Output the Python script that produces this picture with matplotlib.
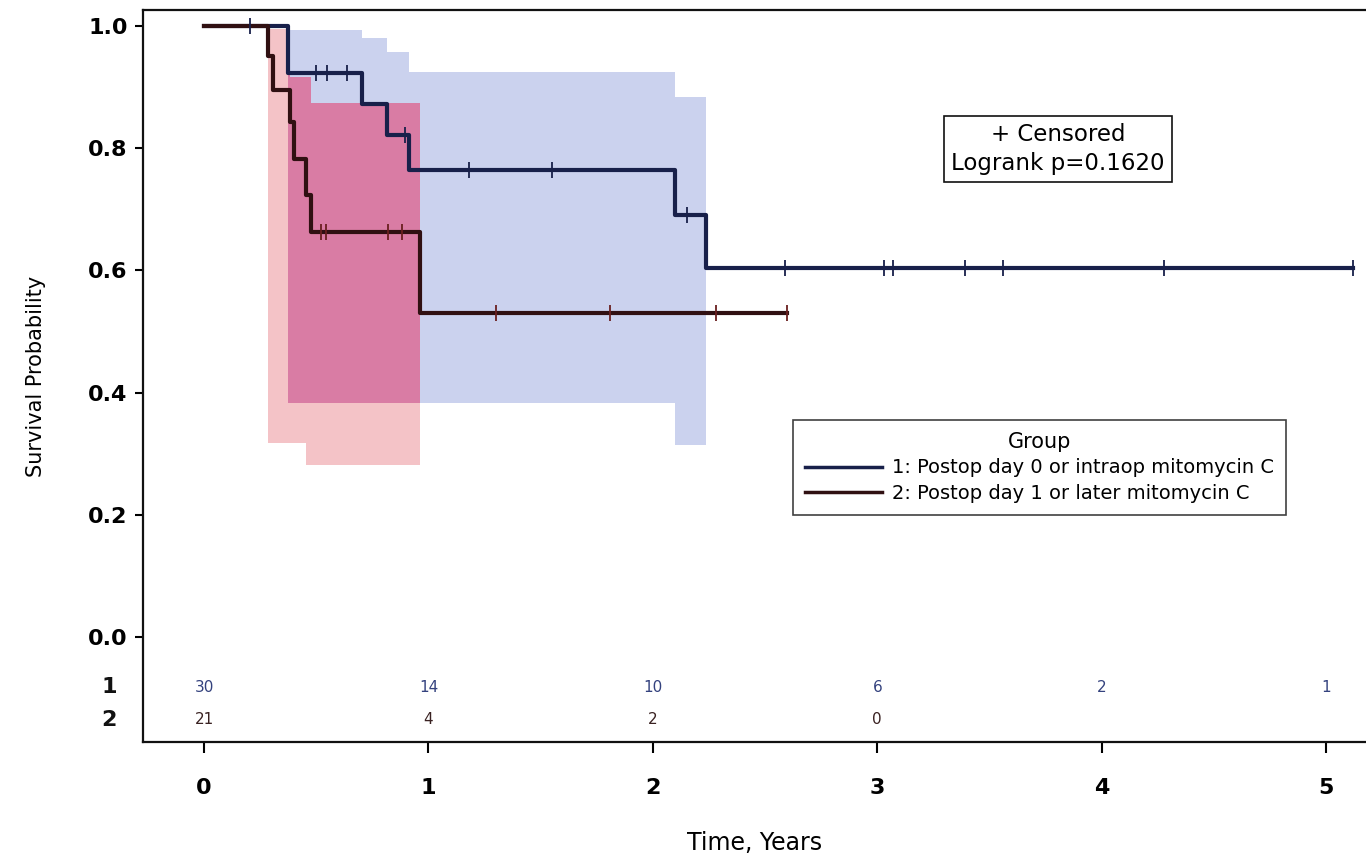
import numpy as np
import matplotlib
matplotlib.use("Agg")
import matplotlib.pyplot as plt
from matplotlib.lines import Line2D

# ---- Kaplan-Meier estimates (step change points) ----
g1_time = [0.0, 0.374, 0.706, 0.814, 0.915, 2.099, 2.237, 5.12]
g1_surv = [1.0, 0.923, 0.872, 0.821, 0.764, 0.691, 0.603, 0.603]
g1_cens_time = [0.205, 0.50, 0.55, 0.635, 0.896, 1.18, 1.55, 2.15, 2.59, 3.03, 3.07, 3.39, 3.56, 4.28, 5.12]

g2_time = [0.0, 0.287, 0.309, 0.383, 0.40, 0.456, 0.478, 0.963, 2.60]
g2_surv = [1.0, 0.950, 0.895, 0.842, 0.782, 0.723, 0.663, 0.530, 0.530]
g2_cens_time = [0.52, 0.545, 0.82, 0.88, 1.30, 1.81, 2.28, 2.60]

# ---- Confidence bands (step change points, last entry closes the band) ----
b1_time = [0.374, 0.706, 0.814, 0.915, 2.099, 2.237]
b1_low = [0.383, 0.383, 0.383, 0.383, 0.314, 0.314]
b1_up = [0.993, 0.980, 0.958, 0.925, 0.884, 0.884]

b2_time = [0.287, 0.383, 0.456, 0.478, 0.963]
b2_low = [0.317, 0.317, 0.282, 0.282, 0.282]
b2_up = [0.995, 0.917, 0.917, 0.874, 0.874]

# ---- Number at risk ----
risk_times = [0, 1, 2, 3, 4, 5]
risk_g1 = [30, 14, 10, 6, 2, 1]
risk_g2 = [21, 4, 2, 0]

group_labels = ["1: Postop day 0 or intraop mitomycin C",
                "2: Postop day 1 or later mitomycin C"]
logrank_text = "Logrank p=0.1620"

col_g1 = "#18204a"
col_g2 = "#301012"
col_band1 = "#cbd2ee"
col_band2 = "#f4c3c7"
col_overlap = "#d97ca4"
col_risk1 = "#34427e"
col_risk2 = "#3a2222"


def step_value(t, times, vals):
    idx = np.searchsorted(times, t, side="right") - 1
    return np.asarray(vals)[np.clip(idx, 0, len(vals) - 1)]


plt.rcParams["font.family"] = ["DejaVu Sans"]

fig = plt.figure(figsize=(13.66, 8.57), dpi=100)
ax = fig.add_axes([0.1047, 0.1342, 0.8953, 0.8541])

# bands
ax.fill_between(b1_time, b1_low, b1_up, step="post", color=col_band1, lw=0, zorder=1)
ax.fill_between(b2_time, b2_low, b2_up, step="post", color=col_band2, lw=0, zorder=2)

# overlap of the two bands
t_lo = max(b1_time[0], b2_time[0])
t_hi = min(b1_time[-1], b2_time[-1])
grid = np.unique(np.concatenate([[t_lo, t_hi],
                                 [t for t in b1_time + b2_time if t_lo <= t <= t_hi]]))
ov_low = np.maximum(step_value(grid, b1_time, b1_low), step_value(grid, b2_time, b2_low))
ov_up = np.minimum(step_value(grid, b1_time, b1_up), step_value(grid, b2_time, b2_up))
ax.fill_between(grid, ov_low, ov_up, where=ov_up > ov_low, step="post",
                color=col_overlap, lw=0, zorder=3)

# survival curves
ax.step(g1_time, g1_surv, where="post", color=col_g1, lw=3, zorder=5)
ax.step(g2_time, g2_surv, where="post", color=col_g2, lw=3, zorder=5)

# censor marks
ax.plot(g1_cens_time, step_value(np.array(g1_cens_time), g1_time, g1_surv), ls="none",
        marker="|", ms=11, mew=1.3, color=col_g1, zorder=6)
ax.plot(g2_cens_time, step_value(np.array(g2_cens_time), g2_time, g2_surv), ls="none",
        marker="|", ms=11, mew=1.3, color="#6a2020", zorder=6)

# number-at-risk table inside the plot area
row_y = [-0.082, -0.136]
for t, n in zip(risk_times, risk_g1):
    ax.text(t, row_y[0], str(n), ha="center", va="center", fontsize=11,
            color=col_risk1)
for t, n in zip(risk_times, risk_g2):
    ax.text(t, row_y[1], str(n), ha="center", va="center", fontsize=11,
            color=col_risk2)
for lab, yy in zip(["1", "2"], row_y):
    ax.text(-0.39, yy, lab, ha="right", va="center", fontsize=16, fontweight="bold",
            color="#111111", clip_on=False)

ax.set_xlim(-0.272, 5.178)
ax.set_ylim(-0.172, 1.026)
ax.set_xticks(risk_times)
ax.set_yticks([0.0, 0.2, 0.4, 0.6, 0.8, 1.0])
ax.set_yticklabels([f"{v:.1f}" for v in [0.0, 0.2, 0.4, 0.6, 0.8, 1.0]])
ax.tick_params(axis="x", length=8, width=1.5, pad=18, labelsize=16, direction="out")
ax.tick_params(axis="y", length=6, width=1.5, pad=5, labelsize=16, direction="out")
for lab in ax.get_xticklabels() + ax.get_yticklabels():
    lab.set_fontweight("bold")

for side in ["left", "bottom", "top"]:
    ax.spines[side].set_linewidth(1.6)
    ax.spines[side].set_color("#111111")
ax.spines["right"].set_visible(False)

ax.set_xlabel("Time, Years", fontsize=17, labelpad=24)
ax.set_ylabel("Survival Probability", fontsize=15, labelpad=30)

# censor / logrank note
ax.text(0.748, 0.810, "+ Censored\n" + logrank_text, transform=ax.transAxes,
        ha="center", va="center", fontsize=16.5, linespacing=1.3,
        bbox=dict(boxstyle="square,pad=0.32", fc="white", ec="#111111", lw=1.2))

# group legend
handles = [Line2D([], [], color=col_g1, lw=2.5), Line2D([], [], color=col_g2, lw=2.5)]
leg = ax.legend(handles, group_labels, title="Group", loc="upper left",
                bbox_to_anchor=(0.5315, 0.44), frameon=True, fancybox=False,
                edgecolor="#111111", handlelength=4.0, handletextpad=0.5,
                borderpad=0.6, labelspacing=0.35, borderaxespad=0.0,
                prop={"size": 14}, title_fontsize=15)
leg.get_frame().set_linewidth(1.2)

fig.savefig("out.png", dpi=100, facecolor="white")
